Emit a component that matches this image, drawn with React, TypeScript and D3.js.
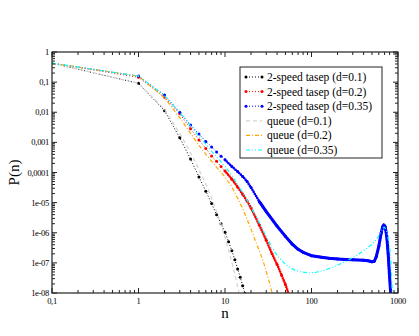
import * as d3 from 'd3';

// log10 of P(n)
const N_TASEP_01 = [0.1, 1, 2, 3, 4, 5, 6, 7, 8, 9, 10, 11, 12, 13, 14, 15, 16, 17];
const LOGP_TASEP_01 = [-0.37, -1.04, -1.95, -2.85, -3.55, -4.15, -4.62, -5.03, -5.4, -5.7, -5.98, -6.3, -6.6, -6.9, -7.2, -7.48, -7.76, -8.02];

const N_TASEP_02 = [0.1, 1, 2, 3, 4, 5, 6, 7, 8, 9, 10, 12, 14, 16, 18, 20, 25, 30, 35, 40, 45, 50, 55];
const LOGP_TASEP_02 = [-0.37, -0.84, -1.5, -2.05, -2.55, -2.92, -3.2, -3.45, -3.63, -3.8, -3.95, -4.22, -4.48, -4.72, -4.95, -5.18, -5.75, -6.25, -6.7, -7.05, -7.4, -7.72, -8.07];

const N_TASEP_035 = [0.1, 1, 2, 3, 4, 5, 6, 7, 8, 9, 10, 12, 14, 16, 18, 20, 25, 30, 40, 50, 60, 70, 80, 100, 130, 160, 200, 250, 300, 400, 450, 500, 530, 560, 600, 640, 665, 685, 710, 740, 770, 795, 820, 835];
const LOGP_TASEP_035 = [-0.37, -0.8, -1.43, -2.0, -2.42, -2.72, -2.97, -3.15, -3.32, -3.46, -3.58, -3.8, -3.97, -4.13, -4.3, -4.5, -4.97, -5.3, -5.78, -6.12, -6.38, -6.55, -6.65, -6.76, -6.81, -6.85, -6.87, -6.89, -6.9, -6.91, -6.93, -6.96, -6.95, -6.8, -6.45, -6.0, -5.8, -5.74, -5.8, -6.1, -6.7, -7.35, -7.95, -8.2];

const N_QUEUE_01 = [0.1, 1, 2, 3, 4, 5, 6, 7, 8, 9, 10, 11, 12, 13, 14, 15];
const LOGP_QUEUE_01 = [-0.37, -1.04, -1.9, -2.7, -3.35, -3.9, -4.38, -4.85, -5.3, -5.73, -6.15, -6.57, -6.98, -7.38, -7.78, -8.18];

const N_QUEUE_02 = [0.1, 1, 2, 3, 4, 5, 6, 7, 8, 9, 10, 12, 14, 16, 18, 20, 22, 25, 28, 31, 34, 36];
const LOGP_QUEUE_02 = [-0.37, -0.8, -1.52, -2.18, -2.7, -3.1, -3.4, -3.63, -3.83, -4.0, -4.15, -4.48, -4.85, -5.2, -5.55, -5.88, -6.2, -6.6, -7.0, -7.42, -7.85, -8.15];

const N_QUEUE_035 = [0.1, 1, 2, 3, 4, 5, 6, 7, 8, 9, 10, 12, 14, 16, 18, 20, 25, 30, 35, 40, 50, 60, 70, 90, 110, 140, 180, 250, 320, 400, 500, 570, 630, 680, 700, 750, 800, 830, 850, 870];
const LOGP_QUEUE_035 = [-0.37, -0.8, -1.45, -2.02, -2.45, -2.8, -3.06, -3.3, -3.48, -3.65, -3.8, -4.1, -4.4, -4.67, -4.92, -5.15, -5.68, -6.12, -6.5, -6.75, -7.05, -7.2, -7.28, -7.33, -7.32, -7.25, -7.13, -6.95, -6.78, -6.6, -6.38, -6.2, -6.0, -5.82, -5.82, -6.0, -6.45, -7.0, -7.7, -8.3];

const X_TICKS = [0.1, 1, 10, 100, 1000];
const X_TICK_LABELS = ['0,1', '1', '10', '100', '1000'];
const Y_TICKS = [1, 0.1, 0.01, 0.001, 0.0001, 1e-5, 1e-6, 1e-7, 1e-8];
const Y_TICK_LABELS = ['1', '0,1', '0,01', '0,001', '0,0001', '1e-05', '1e-06', '1e-07', '1e-08'];

const W = 419;
const H = 336;
const M = { left: 52, right: 21, top: 52, bottom: 43 };
const FONT = 'Liberation Serif, Times New Roman, serif';

type Series = {
  label: string;
  n: number[];
  logp: number[];
  color: string;
  dash: string;
  marker: boolean;
  denseFrom?: number;
  solidFrom?: number;
};

const SERIES: Series[] = [
  { label: '2-speed tasep (d=0.1)', n: N_TASEP_01, logp: LOGP_TASEP_01, color: '#000000', dash: '1 2', marker: true },
  { label: '2-speed tasep (d=0.2)', n: N_TASEP_02, logp: LOGP_TASEP_02, color: '#ff0000', dash: '1 2', marker: true, denseFrom: 10 },
  { label: '2-speed tasep (d=0.35)', n: N_TASEP_035, logp: LOGP_TASEP_035, color: '#0000ff', dash: '1 2', marker: true, denseFrom: 10, solidFrom: 25 },
  { label: 'queue (d=0.1)', n: N_QUEUE_01, logp: LOGP_QUEUE_01, color: '#d3d3d3', dash: '4 3', marker: false },
  { label: 'queue (d=0.2)', n: N_QUEUE_02, logp: LOGP_QUEUE_02, color: '#ffa500', dash: '4 2 1 2', marker: false },
  { label: 'queue (d=0.35)', n: N_QUEUE_035, logp: LOGP_QUEUE_035, color: '#00ffff', dash: '4 2 1 2 1 2', marker: false },
];

export default function App() {
  const x = d3.scaleLog().domain([0.1, 1000]).range([M.left, W - M.right]);
  const y = d3.scaleLog().domain([1e-8, 1]).range([H - M.bottom, M.top]);
  const x0 = M.left, x1 = W - M.right, y0 = H - M.bottom, y1 = M.top;

  const line = d3.line<[number, number]>()
    .x((d) => x(d[0]))
    .y((d) => y(Math.pow(10, d[1])));

  const xMinor: number[] = [];
  for (let dec = 0.1; dec < 1000; dec *= 10) for (let k = 2; k <= 9; k++) xMinor.push(dec * k);
  const yMinor: number[] = [];
  for (let dec = 1e-8; dec < 1; dec *= 10) for (let k = 2; k <= 9; k++) yMinor.push(dec * k);

  const axisColor = '#222';

  return (
    <svg width={W} height={H} style={{ position: 'absolute', left: 0, top: 0, background: '#fff' }}>
      <defs>
        <clipPath id="plot">
          <rect x={x0} y={y1} width={x1 - x0} height={y0 - y1} />
        </clipPath>
      </defs>

      <g clipPath="url(#plot)">
        {SERIES.map((s, si) => {
          const pts = s.n.map((n, i) => [n, s.logp[i]] as [number, number]);
          const dense = s.denseFrom != null ? pts.filter((p) => p[0] >= s.denseFrom!) : [];
          const solid = s.solidFrom != null ? pts.filter((p) => p[0] >= s.solidFrom!) : [];
          return (
            <g key={si}>
              <path d={line(pts) || ''} fill="none" stroke={s.color} strokeWidth={s.marker ? 1 : 1.2} strokeDasharray={s.dash} />
              {dense.length > 1 && (
                <path d={line(dense) || ''} fill="none" stroke={s.color} strokeWidth={2.6}
                  strokeDasharray="0 2.4" strokeLinecap="round" />
              )}
              {solid.length > 1 && (
                <path d={line(solid) || ''} fill="none" stroke={s.color} strokeWidth={3} strokeLinejoin="round" />
              )}
              {s.marker && pts.filter((p) => p[0] >= 1).map((p, i) => (
                <circle key={i} cx={x(p[0])} cy={y(Math.pow(10, p[1]))} r={1.5} fill={s.color} />
              ))}
            </g>
          );
        })}
      </g>

      {/* frame */}
      <rect x={x0} y={y1} width={x1 - x0} height={y0 - y1} fill="none" stroke={axisColor} strokeWidth={1.2} />

      {/* x ticks */}
      {X_TICKS.map((t) => (
        <g key={'xt' + t}>
          <line x1={x(t)} x2={x(t)} y1={y0} y2={y0 - 5} stroke={axisColor} />
          <line x1={x(t)} x2={x(t)} y1={y1} y2={y1 + 5} stroke={axisColor} />
        </g>
      ))}
      {xMinor.map((t, i) => (
        <g key={'xm' + i}>
          <line x1={x(t)} x2={x(t)} y1={y0} y2={y0 - 3} stroke={axisColor} />
          <line x1={x(t)} x2={x(t)} y1={y1} y2={y1 + 3} stroke={axisColor} />
        </g>
      ))}
      {/* y ticks */}
      {Y_TICKS.map((t) => (
        <g key={'yt' + t}>
          <line x1={x0} x2={x0 + 5} y1={y(t)} y2={y(t)} stroke={axisColor} />
          <line x1={x1} x2={x1 - 5} y1={y(t)} y2={y(t)} stroke={axisColor} />
        </g>
      ))}
      {yMinor.map((t, i) => (
        <g key={'ym' + i}>
          <line x1={x0} x2={x0 + 3} y1={y(t)} y2={y(t)} stroke={axisColor} />
          <line x1={x1} x2={x1 - 3} y1={y(t)} y2={y(t)} stroke={axisColor} />
        </g>
      ))}

      {/* tick labels */}
      {X_TICKS.map((t, i) => (
        <text key={'xl' + t} x={x(t)} y={y0 + 11} textAnchor="middle" fontFamily={FONT} fontSize={8.5}
          letterSpacing={-0.3}>{X_TICK_LABELS[i]}</text>
      ))}
      {Y_TICKS.map((t, i) => (
        <text key={'yl' + t} x={x0 - 3} y={y(t) + 3} textAnchor="end" fontFamily={FONT} fontSize={8.5}
          letterSpacing={-0.3}>{Y_TICK_LABELS[i]}</text>
      ))}

      {/* axis titles */}
      <text x={(x0 + x1) / 2} y={318} textAnchor="middle" fontFamily={FONT} fontSize={15}>n</text>
      <text transform={`translate(19,${(y0 + y1) / 2}) rotate(-90)`} textAnchor="middle" fontFamily={FONT} fontSize={15}>P(n)</text>

      {/* legend */}
      <rect x={240} y={67} width={142} height={91} fill="#fff" stroke={axisColor} strokeWidth={1} />
      {SERIES.map((s, i) => {
        const ly = 77 + i * 14.6;
        return (
          <g key={'lg' + i}>
            <line x1={246} x2={262} y1={ly} y2={ly} stroke={s.color} strokeWidth={s.marker ? 1 : 1.2}
              strokeDasharray={s.dash} />
            {s.marker && <circle cx={246} cy={ly} r={1.5} fill={s.color} />}
            {s.marker && <circle cx={262} cy={ly} r={1.5} fill={s.color} />}
            <text x={267} y={ly + 4} fontFamily={FONT} fontSize={11.5}>{s.label}</text>
          </g>
        );
      })}
    </svg>
  );
}
